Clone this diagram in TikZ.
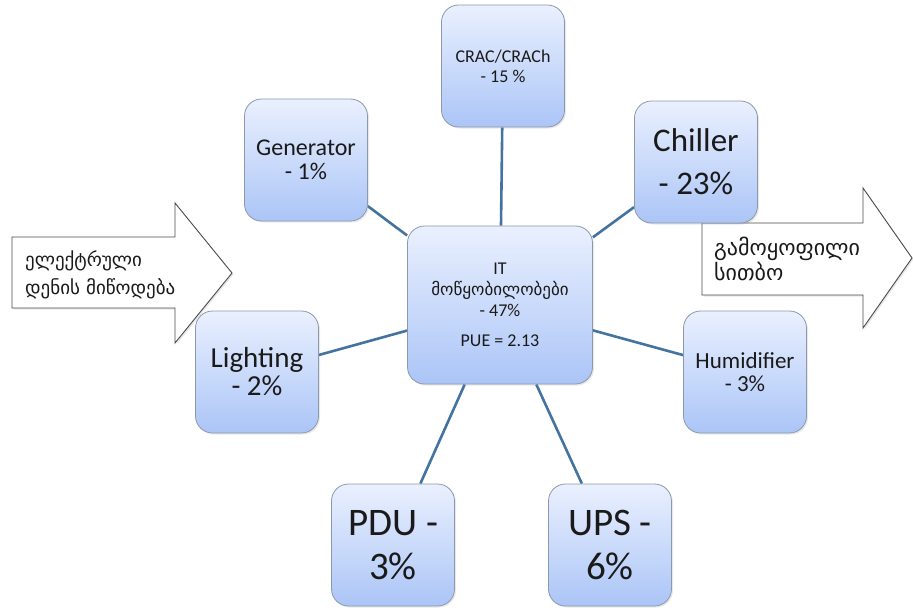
\documentclass[tikz,border=0pt]{standalone}
\usepackage{fontspec}
\setmainfont{Carlito}
\newfontfamily\geo{DejaVu Sans}
\usetikzlibrary{shadows,backgrounds}
\definecolor{pwInk}{HTML}{1A1A1A}
\definecolor{pwTop}{HTML}{EAF0FE}
\definecolor{pwBot}{HTML}{ABC5F7}
\definecolor{pwEdge}{HTML}{8C98AC}
\definecolor{pwLink}{HTML}{44739F}
\definecolor{pwArrow}{HTML}{4A4A4A}
\newcommand{\pct}[2]{\fontsize{#1}{#2}\selectfont}
\tikzset{
 radial/.style={x=1pt,y=-1pt,line join=round,text=pwInk},
 part/.style={rectangle,rounded corners=17pt,draw=pwEdge,line width=.8pt,
   top color=pwTop,bottom color=pwBot,minimum width=123pt,minimum height=122pt,
   inner sep=3pt,align=center,
   drop shadow={opacity=.18,shadow xshift=1.5pt,shadow yshift=-1.5pt}},
 hub/.style={part,minimum width=185pt,minimum height=158pt},
 link/.style={draw=pwLink,line width=2.6pt},
 flowarrow/.style={draw=pwArrow,fill=white,line width=.9pt,line join=miter,
   drop shadow={opacity=.18,shadow xshift=1.5pt,shadow yshift=-1.5pt}},
 flowtext/.style={anchor=west,align=left,inner sep=0pt}
}

\begin{document}
\begin{tikzpicture}[radial]
 \useasboundingbox (0,0) rectangle (913,610);
 \draw[flowarrow] (12,237) -- (175,237) -- (175,203) -- (232,273)
   -- (175,343) -- (175,308) -- (12,308) -- cycle;
 \draw[flowarrow] (702,223) -- (863,223) -- (863,188) -- (912,258)
   -- (863,328) -- (863,295) -- (702,295) -- cycle;
 \node[flowtext,font=\geo\pct{19}{28}] (supply) at (25,275) {ელექტრული\\დენის მიწოდება};
 \node[flowtext,font=\geo\pct{22}{25}] (heat) at (714,259) {გამოყოფილი\\სითბო};
 \node[hub,font=\pct{18}{21}] (it) at (500,305) {IT\\{\geo\pct{17}{21}მოწყობილობები}\\- 47\%\\[9pt]PUE = 2.13};
 \node[part,font=\pct{18}{20}] (crac) at (503,66) {CRAC/CRACh\\- 15 \%};
 \node[part,font=\pct{24}{24}] (gen) at (306,160) {Generator\\- 1\%};
 \node[part,font=\pct{33}{43}] (chill) at (696,162) {Chiller\\- 23\%};
 \node[part,font=\pct{29}{28}] (light) at (257,372) {Lighting\\- 2\%};
 \node[part,font=\pct{23}{23}] (humid) at (745,372) {Humidifier\\- 3\%};
 \node[part,font=\pct{39}{44}] (pdu) at (393,545) {PDU -\\3\%};
 \node[part,font=\pct{39}{44}] (ups) at (610,545) {UPS -\\6\%};
 \begin{scope}[on background layer]
  \foreach \leaf in {crac,gen,chill,light,humid,pdu,ups}
   \draw[link] (it) -- (\leaf);
 \end{scope}
\end{tikzpicture}
\end{document}
